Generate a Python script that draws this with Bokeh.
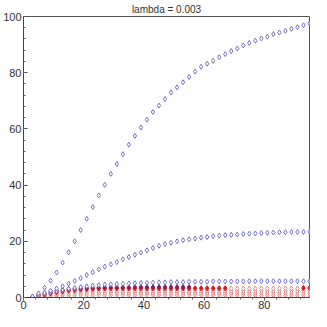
from bokeh.plotting import figure
from bokeh.embed import file_html
from bokeh.resources import INLINE
from bokeh.models import Range1d, FixedTicker

# ---- data ----
x = [3, 5, 7, 9, 11, 13, 15, 17, 19, 21, 23, 25, 27, 29, 31, 33, 35, 37, 39, 41,
     43, 45, 47, 49, 51, 53, 55, 57, 59, 61, 63, 65, 67, 69, 71, 73, 75, 77, 79, 81,
     83, 85, 87, 89, 91, 93, 95]

blue_high = [0.3, 1.5, 3.5, 6.0, 8.9, 12.4, 16.1, 20.0, 24.0, 28.0, 32.2, 36.3, 40.1, 44.0,
             47.5, 51.0, 54.4, 57.5, 60.5, 63.3, 66.0, 68.3, 70.6, 73.0, 74.8, 76.6, 78.5,
             80.4, 82.1, 83.2, 84.3, 85.5, 86.6, 87.7, 88.6, 89.7, 90.6, 91.4, 92.2, 92.8,
             93.7, 94.3, 94.9, 95.6, 96.2, 96.9, 97.5]

blue_mid = [0.3, 0.9, 1.6, 2.4, 3.2, 4.0, 4.9, 5.9, 6.9, 8.0, 9.0, 10.0, 11.0, 11.8, 12.6,
            13.6, 14.4, 15.2, 16.0, 16.8, 17.6, 18.4, 19.0, 19.5, 20.0, 20.4, 20.7, 21.0,
            21.3, 21.5, 21.8, 22.0, 22.2, 22.3, 22.4, 22.6, 22.7, 22.8, 22.9, 23.0, 23.1,
            23.2, 23.2, 23.3, 23.3, 23.3, 23.4]

blue_low = [0.3, 0.8, 1.3, 1.8, 2.3, 2.7, 3.1, 3.4, 3.7, 4.0, 4.2, 4.4, 4.6, 4.7, 4.8, 4.9,
            5.0, 5.1, 5.2, 5.2, 5.3, 5.4, 5.4, 5.5, 5.5, 5.5, 5.6, 5.6, 5.6, 5.6, 5.7, 5.7,
            5.7, 5.7, 5.7, 5.7, 5.8, 5.8, 5.8, 5.8, 5.8, 5.8, 5.8, 5.8, 5.8, 5.8, 5.8]

pink_4 = [0.2, 0.7, 1.2, 1.7, 2.1, 2.4, 2.7, 2.9, 3.0, 3.1, 3.2, 3.2, 3.2, 3.2, 3.2, 3.2,
          3.2, 3.2, 3.2, 3.2, 3.2, 3.2, 3.2, 3.2, 3.2, 3.2, 3.2, 3.2, 3.2, 3.2, 3.2, 3.2,
          3.2, 3.2, 3.2, 3.2, 3.2, 3.2, 3.2, 3.2, 3.2, 3.2, 3.2, 3.2, 3.2, 3.2, 3.2]
pink_3 = [0.2, 0.6, 1.0, 1.3, 1.6, 1.9, 2.1, 2.2, 2.3, 2.4, 2.4, 2.4, 2.4, 2.4, 2.4, 2.4,
          2.4, 2.4, 2.4, 2.4, 2.4, 2.4, 2.4, 2.4, 2.4, 2.4, 2.4, 2.4, 2.4, 2.4, 2.4, 2.4,
          2.4, 2.4, 2.4, 2.4, 2.4, 2.4, 2.4, 2.4, 2.4, 2.4, 2.4, 2.4, 2.4, 2.4, 2.4]
pink_2 = [0.1, 0.4, 0.7, 0.9, 1.1, 1.3, 1.4, 1.5, 1.6, 1.6, 1.6, 1.6, 1.6, 1.6, 1.6, 1.6,
          1.6, 1.6, 1.6, 1.6, 1.6, 1.6, 1.6, 1.6, 1.6, 1.6, 1.6, 1.6, 1.6, 1.6, 1.6, 1.6,
          1.6, 1.6, 1.6, 1.6, 1.6, 1.6, 1.6, 1.6, 1.6, 1.6, 1.6, 1.6, 1.6, 1.6, 1.6]
pink_1 = [0.1, 0.2, 0.4, 0.5, 0.6, 0.7, 0.8, 0.8, 0.8, 0.8, 0.8, 0.8, 0.8, 0.8, 0.8, 0.8,
          0.8, 0.8, 0.8, 0.8, 0.8, 0.8, 0.8, 0.8, 0.8, 0.8, 0.8, 0.8, 0.8, 0.8, 0.8, 0.8,
          0.8, 0.8, 0.8, 0.8, 0.8, 0.8, 0.8, 0.8, 0.8, 0.8, 0.8, 0.8, 0.8, 0.8, 0.8]

red_x = [3, 5, 7, 9, 11, 13, 15, 17, 19, 21, 23, 25, 27, 29, 31, 33, 35, 37, 39, 41,
         43, 45, 47, 49, 51, 53, 55, 57, 59, 61, 63, 65, 67, 93, 95]
red_y = [0.2, 0.6, 1.0, 1.5, 1.9, 2.2, 2.5, 2.7, 2.9, 3.0, 3.1, 3.2, 3.2, 3.3, 3.3, 3.3,
         3.3, 3.3, 3.3, 3.3, 3.3, 3.3, 3.3, 3.3, 3.3, 3.3, 3.3, 3.3, 3.3, 3.3, 3.3, 3.3,
         3.3, 3.4, 3.4]

dark_x = [5, 7, 9, 11, 13, 15, 17, 19, 21, 23, 25, 27, 29, 31, 33, 35, 37, 39, 41,
          43, 45, 47, 49, 51, 53, 55]
dark_y = [1.0, 1.5, 2.0, 2.4, 2.7, 3.0, 3.2, 3.3, 3.4, 3.5, 3.5, 3.6, 3.6, 3.6, 3.6, 3.6,
          3.7, 3.7, 3.7, 3.7, 3.7, 3.7, 3.7, 3.7, 3.7, 3.7]

y_ticks = [0, 20, 40, 60, 80, 100]
x_ticks = [0, 20, 40, 60, 80]
y_minor = [0, 4, 8, 12, 16, 20, 24, 28, 32, 36, 40, 44, 48, 52, 56, 60, 64, 68, 72, 76,
           80, 84, 88, 92, 96, 100]
x_minor = [0, 4, 8, 12, 16, 20, 24, 28, 32, 36, 40, 44, 48, 52, 56, 60, 64, 68, 72, 76,
           80, 84, 88, 92]

# ---- figure ----
p = figure(width=311, height=311, output_backend="svg", toolbar_location=None,
           x_range=Range1d(0, 95), y_range=Range1d(0, 100),
           title="lambda = 0.003", min_border_left=4, min_border_right=2,
           min_border_top=0, min_border_bottom=0)
p.title.align = "center"
p.title.text_font = "Liberation Sans"
p.title.text_font_style = "normal"
p.title.text_font_size = "10px"
p.title.text_color = "#333333"
p.title.offset = 0
p.title.standoff = 3

p.xgrid.visible = False
p.ygrid.visible = False
p.outline_line_color = "#555555"
p.outline_line_width = 1
p.background_fill_color = "white"
p.border_fill_color = "white"

for ax in (p.xaxis[0], p.yaxis[0]):
    ax.axis_line_color = "#444444"
    ax.major_tick_line_color = "#444444"
    ax.minor_tick_line_color = "#666666"
    ax.major_label_text_font = "Liberation Sans"
    ax.major_label_text_font_size = "11px"
    ax.major_label_text_color = "#333333"

p.yaxis.major_label_standoff = 2
p.xaxis.major_label_standoff = 0
p.yaxis.ticker = FixedTicker(ticks=y_ticks, minor_ticks=y_minor)
p.xaxis.ticker = FixedTicker(ticks=x_ticks, minor_ticks=x_minor)
p.yaxis.major_tick_in = 4
p.yaxis.major_tick_out = 0
p.yaxis.minor_tick_in = 2
p.yaxis.minor_tick_out = 0
p.xaxis.major_tick_in = 0
p.xaxis.major_tick_out = 3
p.xaxis.minor_tick_in = 0
p.xaxis.minor_tick_out = 2

BLUE = "#7272cc"
PINK = "#e08c8c"
RED = "#e01818"
DARK = "#8a1f5e"
SZ = 5

for ys in (pink_1, pink_2, pink_3, pink_4):
    p.scatter(x, ys, marker="diamond", size=SZ, fill_color="white", line_color=PINK, line_width=1)
p.scatter(red_x, red_y, marker="diamond", size=SZ, fill_color=RED, line_color=RED, line_width=1)
p.scatter(dark_x, dark_y, marker="diamond", size=SZ, fill_color=DARK, line_color=DARK, line_width=1)
for ys in (blue_low, blue_mid, blue_high):
    p.scatter(x, ys, marker="diamond", size=SZ, fill_color="white", line_color=BLUE, line_width=1)

open("out.html", "w").write(file_html(p, INLINE))
